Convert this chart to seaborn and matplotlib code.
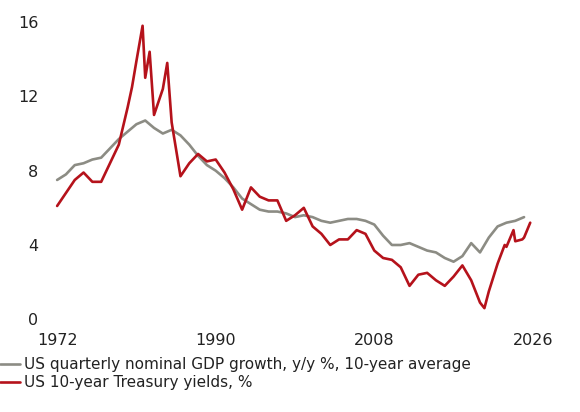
import matplotlib
matplotlib.use("Agg")
import matplotlib.pyplot as plt
import seaborn as sns
import pandas as pd

gdp_years = list(range(1972, 2026))
gdp_vals = [7.5,7.8,8.3,8.4,8.6,8.7,9.2,9.7,10.1,10.5,10.7,10.3,10.0,10.2,9.9,9.4,8.8,8.3,8.0,7.6,
            7.1,6.5,6.2,5.9,5.8,5.8,5.7,5.5,5.6,5.5,5.3,5.2,5.3,5.4,5.4,5.3,5.1,4.5,4.0,4.0,
            4.1,3.9,3.7,3.6,3.3,3.1,3.4,4.1,3.6,4.4,5.0,5.2,5.3,5.5]
tsy_years = [1972,1973,1974,1975,1976,1977,1978,1979,1980,1980.5,1981,1981.7,1982,1982.5,1983,1984,1984.5,
             1985,1986,1987,1988,1989,1990,1991,1992,1993,1994,1995,1996,1997,1998,1999,2000,2001,2002,
             2003,2004,2005,2006,2007,2008,2009,2010,2011,2012,2013,2014,2015,2016,2017,2018,2019,2020,
             2020.5,2021,2022,2022.8,2023,2023.8,2024,2024.8,2025,2025.7]
tsy_vals = [6.1,6.8,7.5,7.9,7.4,7.4,8.4,9.4,11.4,12.5,13.9,15.8,13.0,14.4,11.0,12.4,13.8,
            10.6,7.7,8.4,8.9,8.5,8.6,7.9,7.0,5.9,7.1,6.6,6.4,6.4,5.3,5.6,6.0,5.0,4.6,
            4.0,4.3,4.3,4.8,4.6,3.7,3.3,3.2,2.8,1.8,2.4,2.5,2.1,1.8,2.3,2.9,2.1,0.9,
            0.6,1.5,3.0,4.0,3.9,4.8,4.2,4.3,4.4,5.2]
gdp_label = "US quarterly nominal GDP growth, y/y %, 10-year average"
tsy_label = "US 10-year Treasury yields, %"

df = pd.concat([
    pd.DataFrame({"year": gdp_years, "value": gdp_vals, "series": gdp_label}),
    pd.DataFrame({"year": tsy_years, "value": tsy_vals, "series": tsy_label}),
])

sns.set_style("white")
fig = plt.figure(figsize=(5.8, 4.12), dpi=100)
ax = fig.add_axes([0.095, 0.225, 0.845, 0.735])
sns.lineplot(data=df, x="year", y="value", hue="series",
             palette={gdp_label: "#8c8c84", tsy_label: "#b5121b"},
             linewidth=1.9, ax=ax)
ax.set_xlim(1971.77, 2027.4)
ax.set_ylim(0, 16.3)
ax.set_xticks([1972, 1990, 2008, 2026])
ax.set_yticks([0, 4, 8, 12, 16])
ax.tick_params(axis="x", pad=10)
ax.tick_params(axis="y", pad=12)
ax.tick_params(labelsize=11.5, colors="#222222", length=0)
ax.set_xlabel(""); ax.set_ylabel("")
for s in ax.spines.values():
    s.set_visible(False)
h, l = ax.get_legend_handles_labels()
ax.legend(h, l, loc="upper left", bbox_to_anchor=(-0.125, -0.105), frameon=False,
          fontsize=11, handlelength=1.3, handletextpad=0.3, labelspacing=0.2,
          labelcolor="#222222", borderaxespad=0)
fig.savefig("out.png", dpi=100)
